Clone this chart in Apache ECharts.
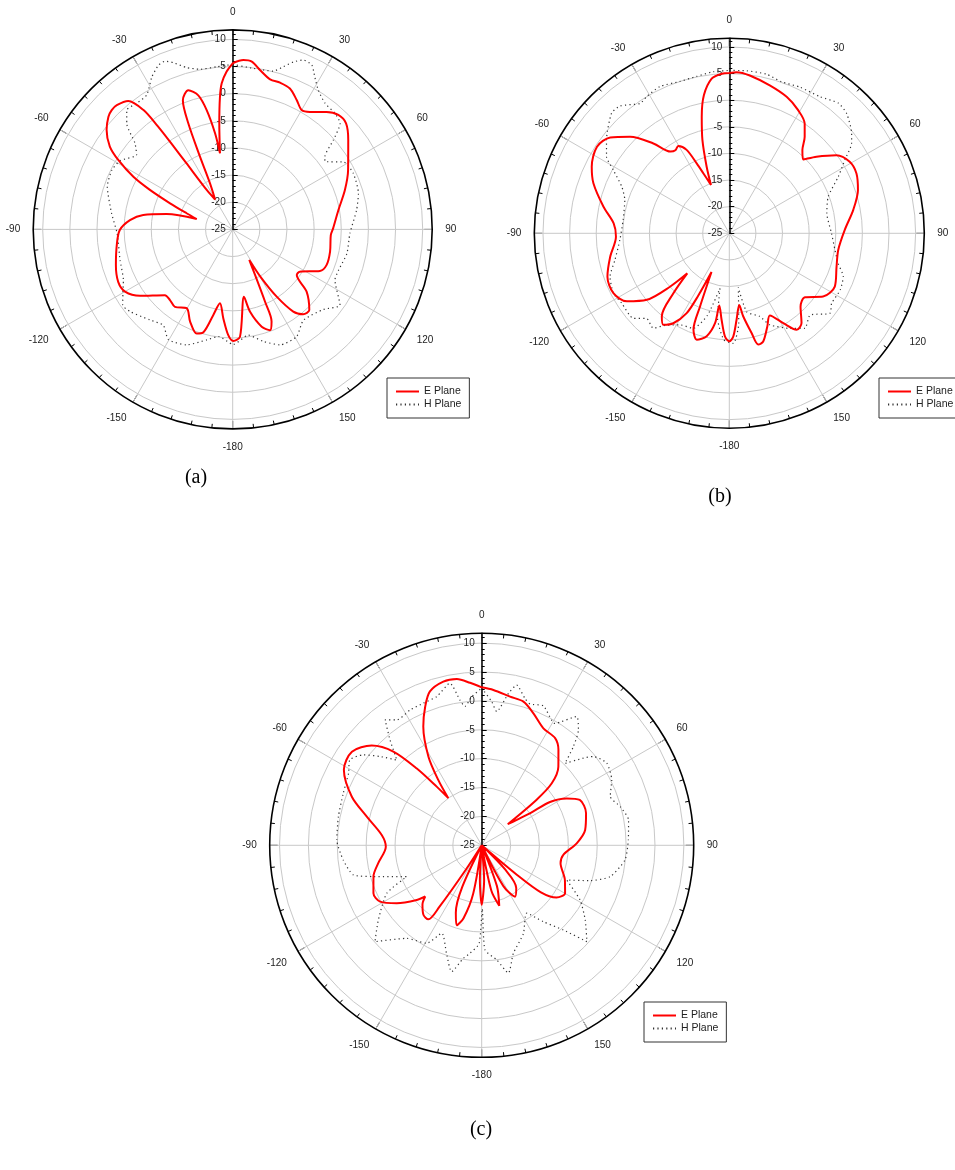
<!DOCTYPE html>
<html>
<head>
<meta charset="utf-8">
<script src="https://cdn.jsdelivr.net/npm/echarts@6/dist/echarts.min.js"></script>
<style>
  html, body { margin: 0; padding: 0; background: #fff; }
  #chart { width: 955px; height: 1170px; }
</style>
</head>
<body>
<div id="chart"></div>
<script>
// Radiation patterns (dB) versus angle (degrees, 0 at top, clockwise positive)

// ---- (a) ----
const aE_deg = [0, 3.6, 6.5, 9.7, 14.0, 17.9, 22.1, 26.3, 30.0, 33.3, 38.6, 42.7, 46.9, 52.3, 62.8, 70.7, 79.6, 89.4, 93.3, 102.9, 110.7, 115.5, 122.2, 125.5, 130.1, 136.5, 140.3, 143.6, 146.8, 149.5, 151.5, 153.9, 155.9, 157.1, 159.7, 163.4, 168.1, 170.5, 176.1, 179.7, -177.6, -174.0, -170.2, -167.2, -164.1, -160.9, -155.2, -149.7, -143.3, -138.4, -134.1, -125.6, -120.0, -114.6, -107.0, -97.7, -90.3, -84.8, -80.8, -76.9, -73.9, -70.7, -67.4, -64.5, -62.1, -58.8, -56.0, -51.7, -47.8, -45.4, -43.0, -39.1, -36.8, -36.0, -35.5, -35.0, -33.4, -30.5, -26.2, -24.2, -22.7, -21.1, -17.7, -14.4, -12.3, -10.4, -9.5, -7.2, -5.5, -4.3, -2.2];
const aE_db = [5.6, 6.25, 6.1, 4.8, 3.5, 3.4, 3.0, 1.6, 0.4, 0.9, 2.7, 3.7, 3.6, 1.9, -1.1, -3.1, -5.2, -6.5, -6.9, -6.6, -6.5, -7.2, -10.4, -10.5, -7.2, -4.5, -4.7, -6.2, -10.2, -14.7, -18.6, -15.6, -10.4, -6.6, -5.2, -6.3, -9.5, -12.4, -5.2, -4.45, -5.5, -8.5, -11.2, -8.8, -5.3, -4.7, -6.3, -8.2, -7.2, -7.6, -7.6, -4.0, -2.1, -1.8, -2.5, -3.45, -4.2, -6.0, -8.3, -12.5, -18.1, -16.0, -12.5, -8.1, -4.3, -0.4, 2.3, 4.6, 5.9, 6.3, 6.3, 5.5, 2.5, -1.5, -6.0, -10.0, -16.3, -18.6, -15.5, -10.3, -3.8, 0.5, 1.9, 0.5, -2.5, -7.0, -10.8, -5.3, -0.5, 2.0, 4.1];
const aH_deg = [0, 7.3, 14.4, 17.3, 19.9, 22.6, 25.7, 28.3, 31.6, 36.2, 41.4, 45.4, 48.4, 51.8, 53.8, 58.6, 65.1, 74.0, 81.1, 92.0, 101.9, 111.0, 116.3, 125.2, 131.4, 142.1, 149.2, 157.7, 164.7, 171.6, 179.7, -172.4, -166.8, -158.3, -149.7, -144.1, -137.6, -128.7, -124.5, -120.2, -114.9, -105.2, -92.0, -82.5, -71.2, -63.9, -58.6, -52.2, -48.6, -45.0, -41.6, -37.3, -32.6, -27.9, -24.3, -21.9, -19.6, -15.9, -11.5, -5.6];
const aH_db = [5.4, 4.9, 5.1, 6.4, 7.8, 8.8, 8.6, 6.9, 5.1, 3.8, 3.5, 2.8, -0.2, -3.4, -3.9, -1.1, -0.5, -0.9, -1.9, -3.4, -3.5, -4.1, -4.0, -0.8, -2.7, -3.8, -2.0, -2.0, -3.6, -5.3, -3.8, -5.1, -4.1, -2.1, -1.5, -3.2, -2.4, -0.8, -0.4, -1.6, -2.8, -3.5, -3.7, -2.5, -0.6, -0.2, -0.7, -2.6, -1.0, 2.6, 4.4, 4.2, 4.4, 6.8, 8.2, 8.4, 7.6, 6.0, 5.1, 5.1];

// ---- (b) ----
const bE_deg = [0, 2.6, 7.4, 15.3, 22.8, 29.2, 34.5, 38.0, 41.3, 45.0, 48.7, 53.9, 59.3, 64.8, 71.4, 79.3, 88.3, 98.7, 107.3, 116.8, 124.0, 130.2, 135.8, 141.2, 145.1, 149.0, 153.7, 157.8, 162.6, 165.4, 167.4, 170.5, 172.1, 175.2, 177.8, 180, -177.6, -174.9, -172.1, -171.0, -167.6, -163.0, -159.6, -158.2, -155.3, -153.5, -151.9, -148.1, -144.2, -140.9, -137.0, -133.6, -132.0, -128.9, -123.6, -117.3, -109.6, -101.1, -91.7, -85.1, -78.1, -69.8, -64.2, -56.8, -51.2, -45.8, -40.2, -35.7, -33.0, -30.3, -27.1, -25.0, -23.4, -20.8, -18.8, -16.1, -13.3, -10.4, -6.5, -2.7];
const bE_db = [5.1, 5.3, 4.9, 3.8, 2.8, 1.5, 0.0, -2.0, -4.2, -5.4, -3.2, -0.1, 1.3, 1.4, 0.5, -1.3, -3.3, -4.3, -3.9, -2.8, -3.75, -6.4, -5.8, -3.35, -2.9, -5.3, -7.8, -6.1, -3.7, -3.4, -5.8, -9.2, -11.4, -8.7, -5.6, -4.7, -5.6, -8.7, -11.3, -7.9, -5.2, -4.1, -5.7, -10.2, -17.0, -11.9, -8.0, -5.1, -3.8, -4.9, -9.6, -14.1, -10.0, -5.1, -1.9, -0.5, -0.7, -2.2, -3.7, -3.2, -0.85, 2.2, 3.7, 4.7, 3.7, 1.0, -2.9, -6.1, -6.4, -6.0, -7.4, -10.5, -12.7, -15.3, -11.8, -6.8, -2.5, 1.4, 4.25, 5.0];
const bH_deg = [0, 6.1, 13.2, 19.0, 25.8, 33.6, 40.0, 44.4, 50.7, 53.7, 57.6, 62.5, 69.7, 78.4, 90.0, 99.0, 105.4, 110.8, 117.1, 124.4, 128.5, 135.4, 141.5, 147.4, 156.1, 160.0, 167.5, 170.5, 174.0, 177.9, -177.0, -172.0, -170.4, -165.0, -159.2, -152.0, -145.6, -141.3, -135.8, -131.5, -123.0, -117.3, -110.0, -103.1, -93.5, -82.8, -72.3, -66.6, -61.4, -58.0, -52.7, -44.4, -40.6, -34.5, -31.2, -25.3, -18.0, -11.8, -5.7];
const bH_db = [5.6, 5.7, 5.7, 5.1, 5.5, 5.8, 6.9, 6.5, 4.7, 3.5, 0.7, -1.9, -5.2, -6.3, -5.8, -4.9, -3.8, -2.1, -1.6, -1.7, -0.85, -3.4, -2.2, -3.8, -6.2, -8.4, -9.9, -14.7, -8.0, -4.3, -5.0, -9.0, -14.5, -9.0, -5.9, -5.5, -4.1, -2.15, -2.7, -0.9, -0.9, -0.5, -1.15, -2.95, -4.4, -4.9, -4.4, -3.0, -0.2, 2.2, 4.0, 6.6, 6.5, 4.6, 5.0, 5.5, 5.0, 5.1, 5.5];

// ---- (c) ----
const cE_deg = [0, 4.3, 10.8, 16.2, 21.4, 27.8, 34.4, 38.8, 44.3, 48.5, 50.3, 51.0, 54.0, 56.5, 57.6, 61.1, 65.2, 72.9, 81.6, 88.8, 96.8, 102.8, 112.6, 119.9, 124.9, 128.5, 130.0, 131.5, 136.0, 141.0, 147.0, 152.0, 156.0, 159.5, 163.8, 168.0, 172.0, 176.0, 180.0, -177.0, -175.0, -170.0, -166.0, -162.6, -159.0, -155.0, -151.0, -147.0, -145.5, -144.2, -140.0, -135.0, -132.2, -130.1, -124.3, -119.0, -113.9, -106.1, -99.9, -90.8, -84.1, -76.0, -69.5, -61.3, -54.2, -47.8, -43.3, -40.2, -37.5, -35.3, -33.6, -31.0, -26.2, -22.2, -18.6, -13.2, -8.5, -4.1];
const cE_db = [2.35, 1.96, 1.2, 0.9, -0.46, -2.1, -2.5, -3.8, -6.0, -8.8, -12.7, -19.2, -17.5, -15.0, -11.0, -8.2, -6.3, -6.1, -6.9, -8.55, -10.8, -11.0, -9.4, -8.35, -9.2, -11.9, -17.0, -25.0, -19.0, -15.5, -14.4, -17.0, -25.0, -17.5, -14.1, -17.0, -25.0, -19.0, -14.7, -19.0, -25.0, -16.5, -12.0, -10.5, -12.5, -17.0, -25.0, -20.0, -12.0, -9.2, -9.3, -10.5, -11.8, -10.3, -7.2, -4.9, -4.5, -5.5, -6.8, -8.4, -7.6, -4.5, -1.0, 2.2, 2.7, 0.7, -2.7, -7.6, -12.2, -15.0, -11.4, -7.1, -2.1, 0.9, 3.1, 4.1, 4.1, 3.2];
const cH_deg = [0, 4.0, 6.4, 10.0, 12.3, 16.4, 18.9, 23.9, 31.0, 36.4, 40.0, 42.9, 45.5, 49.4, 51.5, 56.7, 63.3, 69.2, 74.4, 80.2, 87.9, 95.8, 103.7, 108.1, 112.2, 119.1, 125.8, 132.5, 136.0, 141.1, 146.5, 154.7, 163.7, 168.2, 172.5, 178.2, 179.5, -178.5, -173.8, -170.8, -166.6, -162.0, -155.6, -150.7, -141.1, -132.1, -125.9, -116.8, -112.7, -106.1, -103.0, -96.1, -87.9, -78.7, -69.4, -61.6, -57.0, -52.6, -48.9, -44.9, -41.0, -37.6, -34.1, -27.9, -22.3, -16.8, -11.1, -8.5, -6.9, -3.8];
const cH_db = [2.2, -0.07, -1.7, 1.7, 3.4, 1.5, 0.85, 1.4, -0.4, 2.7, 1.05, -1.7, -4.8, -1.8, -0.3, 0.9, 0.2, -1.2, -0.1, 0.8, 0.4, -0.06, -2.1, -5.3, -9.1, -5.5, -2.9, -0.3, -4.6, -8.0, -10.9, -8.1, -5.5, -2.4, -5.0, -6.9, -14.0, -8.0, -6.2, -5.2, -2.5, -5.3, -8.3, -5.55, -4.3, -0.1, -2.9, -6.6, -10.9, -5.5, -2.2, -0.9, 0.1, 0.3, 0.6, 1.2, 2.2, 0.8, -1.6, -4.2, -0.8, 2.4, 1.2, 1.5, 1.6, 1.9, 3.6, 0.4, -0.8, 0.8];

// Radial scale labels and legend entries
const radiusTicks = [-25, -20, -15, -10, -5, 0, 5, 10];
const legendNames = ['E Plane', 'H Plane'];

// Panel layout: centre, outer radius, radius-axis top value, legend box, caption
const panels = [
  { cx: 232.7, cy: 229.4, r: 199.5, rMax: 11.75, legend: [387, 378], caption: '(a)', capX: 196, capY: 478, E: [aE_deg, aE_db], H: [aH_deg, aH_db] },
  { cx: 729.3, cy: 233.3, r: 195.0, rMax: 11.63, legend: [879, 378], caption: '(b)', capX: 720, capY: 497, E: [bE_deg, bE_db], H: [bH_deg, bH_db] },
  { cx: 481.7, cy: 845.3, r: 212.0, rMax: 11.70, legend: [644, 1002], caption: '(c)', capX: 481, capY: 1130, E: [cE_deg, cE_db], H: [cH_deg, cH_db] }
];

// angle in [-180,180] -> [0,360) on a clockwise axis starting at the top
function toPolar(deg, db) {
  const pts = deg.map((a, i) => [db[i], a < 0 ? a + 360 : a]);
  pts.push([db[0], 360]);
  return pts;
}

const FONT = 'Liberation Sans, Arial, sans-serif';
const GRID = '#c8c8c8';

const polar = [], angleAxis = [], radiusAxis = [], series = [], legend = [], graphic = [];

panels.forEach((p, i) => {
  polar.push({ center: [p.cx, p.cy], radius: p.r });

  angleAxis.push({
    polarIndex: i, type: 'value', min: 0, max: 360, interval: 30,
    startAngle: 90, clockwise: true, z: 1,
    axisLine: { show: true, lineStyle: { color: '#000', width: 1.6 } },
    axisTick: { show: true, inside: true, length: 8, lineStyle: { color: '#000', width: 1 } },
    minorTick: { show: true, splitNumber: 5, length: 4, lineStyle: { color: '#000', width: 1 } },
    axisLabel: {
      margin: 13, color: '#222', fontSize: 10, fontFamily: FONT,
      formatter: v => v >= 360 ? '' : String(v >= 180 ? v - 360 : v)
    },
    splitLine: { show: true, lineStyle: { color: GRID, width: 1 } }
  });

  // circles at each 5 dB step; the circle at the axis top is left invisible
  const ringColors = radiusTicks.map(() => GRID).concat(['rgba(0,0,0,0)']);
  // negative tick lengths put the ticks on the side opposite the labels
  radiusAxis.push({
    polarIndex: i, type: 'value', min: -25, max: p.rMax, interval: 5, z: 2,
    axisLine: { show: true, lineStyle: { color: '#000', width: 1.5 } },
    axisTick: { show: true, length: -5, lineStyle: { color: '#000', width: 1 } },
    minorTick: { show: true, splitNumber: 5, length: -3, lineStyle: { color: '#000', width: 1 } },
    axisLabel: {
      margin: 7, color: '#222', fontSize: 10, fontFamily: FONT,
      formatter: v => radiusTicks.indexOf(Math.round(v * 1000) / 1000) >= 0 ? String(v) : ''
    },
    splitLine: { show: true, lineStyle: { color: ringColors, width: 1 } }
  });

  series.push({
    type: 'line', name: 'H Plane', coordinateSystem: 'polar', polarIndex: i,
    data: toPolar(p.H[0], p.H[1]), symbol: 'none', smooth: 0.2, z: 3,
    lineStyle: { color: '#333', width: 1.2, type: [1.2, 3.2] },
    itemStyle: { color: '#333' }
  });
  series.push({
    type: 'line', name: 'E Plane', coordinateSystem: 'polar', polarIndex: i,
    data: toPolar(p.E[0], p.E[1]), symbol: 'none', smooth: 0.3, z: 4,
    lineStyle: { color: '#ff0000', width: 2 },
    itemStyle: { color: '#ff0000' }
  });

  legend.push({
    data: legendNames, orient: 'vertical', left: p.legend[0], top: p.legend[1],
    itemWidth: 23, itemHeight: 10, itemGap: 2, padding: [8, 8, 8, 8],
    borderColor: '#333', borderWidth: 1, backgroundColor: '#fff',
    selectedMode: false,
    itemStyle: { opacity: 0 },
    textStyle: { fontSize: 10.5, color: '#222', fontFamily: FONT }
  });

  graphic.push({
    type: 'text', x: p.capX, y: p.capY,
    style: { text: p.caption, fontSize: 20, fontFamily: 'Liberation Serif, Times New Roman, serif', fill: '#000', align: 'center', verticalAlign: 'middle' }
  });
});

const chart = echarts.init(document.getElementById('chart'), null, { renderer: 'canvas' });
chart.setOption({
  animation: false,
  backgroundColor: '#fff',
  polar, angleAxis, radiusAxis, series, legend, graphic
});
</script>
</body>
</html>
